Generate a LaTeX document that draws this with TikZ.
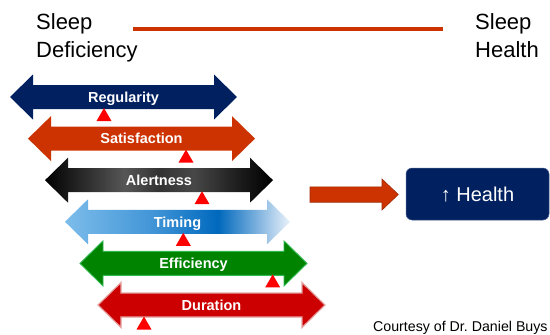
\documentclass[tikz,border=0pt]{standalone}
\usepackage{fontspec}
\setmainfont{Liberation Sans}
\usetikzlibrary{calc}
\frenchspacing
\definecolor{navy}{HTML}{002060}
\definecolor{satis}{HTML}{CC3300}
\definecolor{satisdark}{HTML}{A02800}
\definecolor{effgreen}{HTML}{008400}
\definecolor{effedge}{HTML}{30B850}
\definecolor{durred}{HTML}{CC0000}
\definecolor{duredge}{HTML}{E6A3A3}
\definecolor{markred}{HTML}{FF0000}
\pgfdeclarehorizontalshading{alertshade}{100bp}{rgb(0bp)=(0,0,0); rgb(25bp)=(0,0,0); rgb(30bp)=(0.1,0.1,0.1); rgb(42.5bp)=(0.34,0.34,0.34); rgb(50bp)=(0.2,0.2,0.2); rgb(57.5bp)=(0.28,0.28,0.28); rgb(67.5bp)=(0.11,0.11,0.11); rgb(75bp)=(0,0,0); rgb(100bp)=(0,0,0)}
\pgfdeclarehorizontalshading{timeshade}{100bp}{rgb(0bp)=(0.49,0.74,0.92); rgb(25bp)=(0.49,0.74,0.92); rgb(45bp)=(0.25,0.58,0.84); rgb(59bp)=(0,0.41,0.74); rgb(67.5bp)=(0.48,0.69,0.87); rgb(75bp)=(0.92,0.95,0.98); rgb(100bp)=(0.92,0.95,0.98)}
% double block arrow: centre x, centre y, half length, style
\newcommand{\DArrow}[4]{%
  \path[#4] (#1-#3,#2) -- (#1-#3+23,#2-22.5) -- (#1-#3+23,#2-12)
    -- (#1+#3-23,#2-12) -- (#1+#3-23,#2-22.5) -- (#1+#3,#2)
    -- (#1+#3-23,#2+22.5) -- (#1+#3-23,#2+12) -- (#1-#3+23,#2+12)
    -- (#1-#3+23,#2+22.5) -- cycle;}
\newcommand{\RMark}[2]{%
  \fill[markred] (#1-7.5,#2+24) -- (#1,#2+11) -- (#1+7.5,#2+24) -- cycle;}
\tikzset{
  lbl/.style={text=white, font=\fontsize{14.5}{17}\selectfont\bfseries,
    inner sep=0pt, text height=10.4pt, text depth=0pt},
  toptxt/.style={align=left, font=\fontsize{22}{28}\selectfont, inner sep=0pt, anchor=north west},
}
\begin{document}
\begin{tikzpicture}[x=1pt,y=-1pt]
\fill[white] (0,0) rectangle (550,335);
\useasboundingbox (0,0) rectangle (550,335);

% top scale
\node[toptxt] (sdef) at (36,13.2) {Sleep\\Deficiency};
\node[toptxt] (shealth) at (475,13.2) {Sleep\\Health};
\coordinate (ls) at (133,29);
\coordinate (le) at (443,29);
\draw[satis, line width=3.5pt] (ls) -- (le);

% dimension arrows
\DArrow{123.5}{97}{113.5}{fill=navy}
\DArrow{141.5}{138.6}{113.5}{fill=satis}
\DArrow{159}{180.2}{114}{shading=alertshade}
\DArrow{177.5}{221.8}{112.5}{shading=timeshade}
\DArrow{193.5}{263.4}{113.5}{fill=effgreen, draw=effedge, line width=0.9pt}
\DArrow{211.5}{305}{113.5}{fill=durred, draw=duredge, line width=1.2pt}

\node[lbl] (reg) at (123.5,97) {Regularity};
\node[lbl] (sat) at (141.5,138.6) {Satisfaction};
\node[lbl] (ale) at (159,180.2) {Alertness};
\node[lbl] (tim) at (177.5,221.8) {Timing};
\node[lbl] (eff) at (193.5,263.4) {Efficiency};
\node[lbl] (dur) at (211.5,305) {Duration};

% red markers
\RMark{104}{97}
\RMark{186}{138.6}
\RMark{202}{180.2}
\RMark{183.3}{221.8}
\RMark{272.7}{263.4}
\RMark{144}{305.5}

% block arrow to health
\coordinate (ha) at (310,194.5);
\path[fill=satis, draw=satisdark, line width=0.6pt]
  (ha) ++(0,-7.7) -- ++(72,0) -- ++(0,-7.8) -- ++(16.3,15.5) -- ++(-16.3,15.5)
  -- ++(0,-7.8) -- ++(-72,0) -- cycle;

\node[fill=navy, draw=navy!70!white, line width=0.5pt, rounded corners=6pt,
  minimum width=143pt, minimum height=52pt, inner sep=0pt, text=white,
  font=\fontsize{20}{24}\selectfont, text height=14.3pt, text depth=0pt]
  (health) at (477.5,194) {↑ Health};

\node[anchor=base west, inner sep=0pt, font=\fontsize{14.2}{17}\selectfont] (court)
  at (373,331) {Courtesy of Dr. Daniel Buys};
\end{tikzpicture}
\end{document}
